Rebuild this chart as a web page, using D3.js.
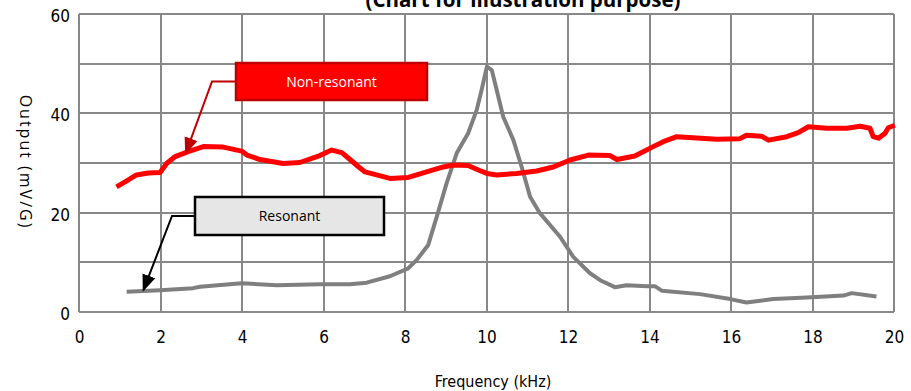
<!DOCTYPE html>
<html>
<head>
<meta charset="UTF-8">
<title>Output vs frequency</title>
<script src="https://cdn.jsdelivr.net/npm/d3@7"></script>
<style>
    body{ margin:0; background:#fff; }
    .grid line{ stroke:#888; stroke-width:2; shape-rendering:crispEdges; }
    .axis text{ font-family:"DejaVu Sans Condensed","DejaVu Sans",sans-serif; font-size:17px; fill:#000; }
    .axis path, .axis line{ display:none; }
</style>
</head>
<body>
<div id="root"></div>
<script>
    // frequency (kHz) / output (mV/G)
    const nonResFreq = [0.92,1.15,1.41,1.70,1.99,2.15,2.36,2.68,3.05,3.54,3.99,4.12,4.44,5.01,5.42,5.91,6.20,6.45,6.65,6.85,7.02,7.63,8.08,8.53,8.94,9.19,9.55,9.80,10.01,10.25,10.74,11.23,11.64,12.05,12.50,13.03,13.20,13.64,14.09,14.34,14.67,15.65,16.22,16.38,16.75,16.92,17.37,17.65,17.90,18.35,18.84,19.17,19.41,19.49,19.62,19.78,19.86,20.02]
    const nonResOut  = [25.2,26.3,27.6,28.0,28.1,29.9,31.3,32.3,33.3,33.2,32.4,31.6,30.7,29.9,30.1,31.5,32.6,32.1,30.7,29.3,28.2,26.9,27.1,28.2,29.2,29.6,29.5,28.6,27.9,27.6,27.9,28.4,29.2,30.6,31.6,31.5,30.7,31.4,33.3,34.3,35.3,34.8,34.9,35.6,35.4,34.6,35.3,36.1,37.3,37.0,37.0,37.4,37.0,35.3,35.0,36.0,37.1,37.6]

    const resFreq = [1.17,1.99,2.80,2.97,3.99,4.85,5.91,6.65,7.06,7.63,8.08,8.29,8.57,8.78,9.02,9.27,9.55,9.76,9.88,10.01,10.13,10.25,10.41,10.66,10.86,11.07,11.31,11.80,12.13,12.54,12.79,13.15,13.44,13.93,14.13,14.30,15.24,15.98,16.38,17.04,17.86,18.76,18.96,19.57]
    const resOut  = [4.1,4.4,4.8,5.1,5.8,5.4,5.6,5.6,5.9,7.2,8.8,10.5,13.5,19.2,25.9,32.0,36.0,40.7,44.7,49.4,48.7,44.7,39.3,34.6,29.3,23.2,19.9,15.2,11.1,7.8,6.4,5.0,5.4,5.2,5.2,4.3,3.6,2.6,1.9,2.6,2.9,3.3,3.8,3.1]

    const xTicks = [0,2,4,6,8,10,12,14,16,18,20]
    const yTicks = [0,20,40,60]
    const yGrid  = [0,10,20,30,40,50,60]

    // callouts: label, point the arrow goes to [freq, output]
    const callouts = [
        {label:"Non-resonant", target:[2.62,32.0]},
        {label:"Resonant", target:[1.58,4.4]}
    ]

    const width = 911, height = 391
    const margin = {left:79, right:17, top:14, bottom:79}

    const svg = d3.select("#root").append("svg").attr("width", width).attr("height", height)

    const x = d3.scaleLinear().domain([0,20]).range([margin.left, width-margin.right])
    const y = d3.scaleLinear().domain([0,60]).range([height-margin.bottom, margin.top])

    // grid
    const grid = svg.append("g").attr("class","grid")
    grid.selectAll(".v").data(xTicks).enter().append("line")
        .attr("x1", d => x(d)).attr("x2", d => x(d))
        .attr("y1", y(0)).attr("y2", y(60))
    grid.selectAll(".h").data(yGrid).enter().append("line")
        .attr("x1", x(0)).attr("x2", x(20))
        .attr("y1", d => y(d)).attr("y2", d => y(d))

    // axes (labels only)
    svg.append("g").attr("class","axis").attr("transform","translate(0,"+(y(0)+16)+")")
        .call(d3.axisBottom(x).tickValues(xTicks).tickSize(0).tickFormat(d3.format("d")))
    svg.append("g").attr("class","axis").attr("transform","translate("+(x(0)-6)+",2)")
        .call(d3.axisLeft(y).tickValues(yTicks).tickSize(0).tickFormat(d3.format("d")))

    // lines
    const line = d3.line().x(d => x(d[0])).y(d => y(d[1]))
    svg.append("path").datum(d3.zip(resFreq, resOut))
        .attr("d", line).attr("fill","none").attr("stroke","#7f7f7f").attr("stroke-width",4)
        .attr("stroke-linejoin","round")
    svg.append("path").datum(d3.zip(nonResFreq, nonResOut))
        .attr("d", line).attr("fill","none").attr("stroke","#ff0000").attr("stroke-width",5)
        .attr("stroke-linejoin","round")

    // arrow heads
    const defs = svg.append("defs")
    function marker(id, color){
        defs.append("marker").attr("id", id).attr("viewBox","0 0 10 10")
            .attr("refX",9).attr("refY",5)
            .attr("markerUnits","userSpaceOnUse").attr("orient","auto")
            .attr("markerWidth",17).attr("markerHeight",17)
            .append("path").attr("d","M0,1 L10,5 L0,9 z").attr("fill", color)
    }
    marker("arrRed","#c00000")
    marker("arrBlack","#000")

    // callout boxes
    const boxes = [
        {x:236, y:63, w:191, h:37, fill:"#ff0000", stroke:"#c00000", text:"#fff", elbow:212, mk:"arrRed"},
        {x:195, y:197, w:189, h:38, fill:"#e6e6e6", stroke:"#000", text:"#000", elbow:172, mk:"arrBlack"}
    ]
    callouts.forEach((c, i) => {
        const b = boxes[i]
        const my = b.y + b.h/2
        svg.append("path")
            .attr("d", "M"+b.x+","+my+" L"+b.elbow+","+my+" L"+x(c.target[0])+","+y(c.target[1]))
            .attr("fill","none").attr("stroke", b.stroke).attr("stroke-width",2)
            .attr("marker-end","url(#"+b.mk+")")
        svg.append("rect").attr("x",b.x).attr("y",b.y).attr("width",b.w).attr("height",b.h)
            .attr("fill",b.fill).attr("stroke",b.stroke).attr("stroke-width",2.5)
        svg.append("text").attr("x",b.x+b.w/2).attr("y",my+5).attr("text-anchor","middle")
            .attr("font-family","'Open Sans',sans-serif").attr("font-size",14).attr("fill",b.text)
            .text(c.label)
    })

    // titles
    svg.append("text").attr("x",523).attr("y",7).attr("text-anchor","middle")
        .attr("font-family","'Open Sans',sans-serif").attr("font-weight","bold").attr("font-size",20.5)
        .text("(Chart for illustration purpose)")
    svg.append("text").attr("x",493).attr("y",387).attr("text-anchor","middle")
        .attr("font-family","'DejaVu Sans Condensed','DejaVu Sans',sans-serif").attr("font-size",16)
        .text("Frequency (kHz)")
    svg.append("text").attr("transform","translate(20,162) rotate(90)").attr("text-anchor","middle")
        .attr("font-family","'Open Sans',sans-serif").attr("font-size",16).attr("letter-spacing",2)
        .text("Output (mV/G)")
</script>
</body>
</html>
